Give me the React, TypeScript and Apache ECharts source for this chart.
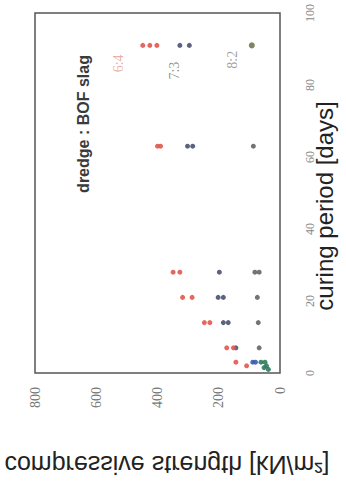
import React, { useEffect, useRef } from "react";
import * as echarts from "echarts";

// curing period [days] vs compressive strength [kN/m2]
const ratio64: [number, number][] = [
  [2, 109], [3, 144],
  [7, 174], [7, 152],
  [14, 247], [14, 229],
  [21, 318], [21, 287],
  [28, 349], [28, 327],
  [63, 400], [63, 390],
  [91, 448], [91, 425], [91, 402],
];
const ratio73: [number, number][] = [
  [7, 144],
  [14, 185], [14, 169],
  [21, 202], [21, 185],
  [28, 198],
  [63, 302], [63, 285],
  [91, 327], [91, 296],
];
const ratio73Early: [number, number][] = [[3, 89], [3, 80]];
const ratio82: [number, number][] = [
  [7, 68],
  [14, 71],
  [21, 74],
  [28, 82], [28, 68],
  [63, 87],
];
const ratio82Late: [number, number][] = [[91, 92]];
const ratio82Early: [number, number][] = [[3, 62], [3, 49], [2, 44], [1, 38], [1.5, 52]];

const strengthTicks = [0, 200, 400, 600, 800];
const dayTicks = [0, 20, 40, 60, 80, 100];

const seriesLabels = [
  { text: "6:4", day: 86, strength: 526, color: "#e49a8f" },
  { text: "7:3", day: 84, strength: 343, color: "#7a7a7a" },
  { text: "8:2", day: 87, strength: 154, color: "#8a8a8a" },
];

export default function App() {
  const ref = useRef<HTMLDivElement>(null);
  useEffect(() => {
    if (!ref.current) return;
    const chart = echarts.init(ref.current, null, { renderer: "svg" });
    const toXY = (d: [number, number][]) => d.map(([day, s]) => [s, day]);
    const sym = (data: [number, number][], color: string, size = 5) => ({
      type: "scatter",
      data: toXY(data),
      symbolSize: size,
      itemStyle: { color, opacity: 0.9 },
    });
    chart.setOption({
      animation: false,
      backgroundColor: "#ffffff",
      grid: {
        left: 35,
        right: 66,
        top: 13,
        bottom: 109,
        show: true,
        borderColor: "#555",
        borderWidth: 1.5,
        backgroundColor: "transparent",
      },
      xAxis: {
        type: "value",
        min: strengthTicks[0],
        max: strengthTicks[strengthTicks.length - 1],
        interval: 200,
        inverse: true,
        position: "bottom",
        axisLine: { show: false },
        axisTick: { show: false },
        splitLine: { show: false },
        axisLabel: {
          rotate: 90,
          margin: 14,
          color: "#777",
          fontSize: 14,
          fontFamily: "Liberation Serif",
        },
      },
      yAxis: {
        type: "value",
        min: dayTicks[0],
        max: dayTicks[dayTicks.length - 1],
        interval: 20,
        position: "right",
        axisLine: { show: false },
        axisTick: { show: false },
        splitLine: { show: false },
        axisLabel: {
          rotate: 90,
          margin: 24,
          color: "#888",
          fontSize: 12,
          fontFamily: "Liberation Serif",
        },
      },
      series: [
        sym(ratio82, "#62675f"),
        sym(ratio82Late, "#6b7a4f", 6),
        sym(ratio82Early, "#2f7a5c"),
        sym(ratio73, "#4a5272"),
        sym(ratio73Early, "#3a5bb0"),
        sym(ratio64, "#e2574c"),
        {
          type: "scatter",
          data: seriesLabels.map((l) => ({
            value: [l.strength, l.day],
            label: {
              show: true,
              position: "inside",
              formatter: l.text,
              rotate: 90,
              color: l.color,
              fontSize: 14,
              fontFamily: "Liberation Serif",
            },
          })),
          symbolSize: 1,
          itemStyle: { color: "transparent" },
        },
      ],
      graphic: [
        {
          type: "text",
          x: 83,
          y: 124,
          rotation: Math.PI / 2,
          style: {
            text: "dredge : BOF slag",
            textAlign: "center",
            textVerticalAlign: "middle",
            font: "bold 16px 'Liberation Sans'",
            fill: "#3a3a3a",
          },
        },
        {
          type: "text",
          x: 324,
          y: 206,
          rotation: Math.PI / 2,
          style: {
            text: "curing period [days]",
            textAlign: "center",
            textVerticalAlign: "middle",
            font: "24px 'Liberation Sans'",
            fill: "#222",
          },
        },
        {
          type: "text",
          x: 167,
          y: 465,
          scaleY: -1,
          style: {
            text: "compressive strength [kN/m²]",
            textAlign: "center",
            textVerticalAlign: "middle",
            font: "25px 'Liberation Sans'",
            fill: "#222",
          },
        },
      ],
    });
    return () => chart.dispose();
  }, []);
  return (
    <div
      ref={ref}
      style={{ position: "fixed", left: 0, top: 0, width: 346, height: 482, background: "#fff" }}
    />
  );
}
